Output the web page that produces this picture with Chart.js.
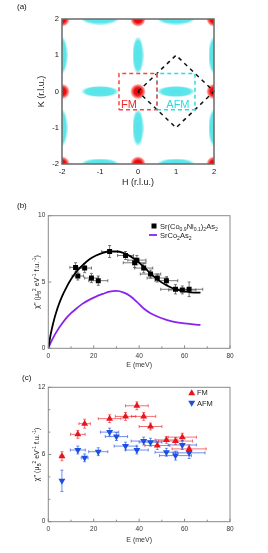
<!DOCTYPE html>
<html><head><meta charset="utf-8">
<script src="https://cdn.jsdelivr.net/npm/chart.js@4.4.1/dist/chart.umd.min.js"></script>
<style>
html,body{margin:0;padding:0;background:#fff;width:268px;height:553px;overflow:hidden;font-family:"Liberation Sans",Arial,sans-serif}
.wrap{position:absolute;left:0;width:268px}
.lab{position:absolute;font-size:8px;line-height:9px;color:#111}
canvas{display:block}
</style></head><body>
<div class="wrap" style="top:0;height:190px"><canvas id="ca" width="268" height="190"></canvas></div>
<div class="wrap" style="top:192px;height:180px"><canvas id="cb" width="268" height="180"></canvas></div>
<div class="wrap" style="top:370px;height:183px"><canvas id="cc" width="268" height="183"></canvas></div>
<div class="lab" style="left:17px;top:2px">(a)</div>
<div class="lab" style="left:17px;top:201px">(b)</div>
<div class="lab" style="left:22px;top:373px">(c)</div>
<script>
// ---------- DATA ----------
// Panel (a): reciprocal-space map (H, K in r.l.u.)
const hklTicks = [-2, -1, 0, 1, 2];
const redH = [-2, 0, 2, -2, 0, 2, -2, 0, 2];
const redK = [2, 2, 2, 0, 0, 0, -2, -2, -2];
const hEllH = [-1, 1, -1, 1, -1, 1];
const hEllK = [0, 0, 2, 2, -2, -2];
const vEllH = [0, 0, -2, -2, 2, 2];
const vEllK = [1, -1, 1, -1, 1, -1];
const fmBoxH = [-0.5, 0.5, 0.5, -0.5, -0.5];
const fmBoxK = [-0.5, -0.5, 0.5, 0.5, -0.5];
const afmBoxH = [0.5, 1.5, 1.5, 0.5, 0.5];
const afmBoxK = [-0.5, -0.5, 0.5, 0.5, -0.5];
const diamH = [0, 1, 2, 1, 0];
const diamK = [0, 1, 0, -1, 0];

// Panel (b)
const eTicks = [0, 20, 40, 60, 80];
const eMinor = [10, 30, 50, 70];
const chiTicksB = [0, 5, 10];
const eB    = [12, 13, 16, 19, 22, 27, 34, 38, 39, 42, 45, 48, 52, 56, 59, 62];
const chiB  = [6.1, 5.45, 6.05, 5.3, 5.1, 7.3, 7.0, 6.45, 6.65, 6.05, 5.6, 5.3, 5.1, 4.45, 4.4, 4.45];
const eErrB = [2.5, 2.5, 3, 3, 4.2, 3.5, 3.5, 5, 4, 4, 4.5, 4.5, 5, 6.5, 6, 6];
const chiErrB = [0.35, 0.3, 0.35, 0.35, 0.35, 0.45, 0.3, 0.35, 0.35, 0.35, 0.3, 0.3, 0.3, 0.35, 0.3, 0.55];
const curveE = [0, 1, 2, 4, 6, 8, 10, 12, 15, 18, 21, 24, 27, 30, 33, 36, 39, 42, 45, 48, 52, 56, 60, 64, 67];
const fitChi = [0, 1.0, 1.8, 3.0, 3.9, 4.6, 5.2, 5.7, 6.25, 6.7, 7.0, 7.2, 7.3, 7.3, 7.2, 6.95, 6.6, 6.15, 5.65, 5.2, 4.75, 4.45, 4.3, 4.2, 4.2];
const srCo2As2Chi = [0, 0.4, 0.75, 1.35, 1.85, 2.3, 2.65, 2.95, 3.35, 3.65, 3.9, 4.1, 4.28, 4.33, 4.22, 3.95, 3.5, 3.0, 2.65, 2.4, 2.15, 1.98, 1.88, 1.8, 1.76];

// Panel (c)
const chiTicksC = [0, 6, 12];
const chiMinorC = [2, 4, 8, 10];
const eFM    = [6, 13, 16, 27, 34, 39, 42, 45, 48, 52, 56, 59, 62];
const chiFM  = [5.85, 7.8, 8.75, 9.2, 9.4, 10.35, 9.4, 8.5, 6.8, 7.3, 7.2, 7.55, 6.5];
const eErrFM = [0.8, 3.2, 2.5, 5, 4.5, 5, 5.3, 5, 5.5, 5, 7.5, 6.2, 7.5];
const chiErrFM = [0.4, 0.35, 0.4, 0.35, 0.35, 0.35, 0.35, 0.3, 0.35, 0.3, 0.3, 0.35, 0.35];
const eAFM    = [6, 13, 16, 22, 27, 30, 34, 39, 42, 45, 52, 56, 59, 62];
const chiAFM  = [3.65, 6.4, 5.7, 6.25, 8.0, 7.6, 6.75, 6.4, 7.2, 7.1, 6.2, 5.9, 6.85, 6.15];
const eErrAFM = [0, 3.3, 1.5, 4.2, 4, 4.9, 5, 5, 5.5, 5, 5, 7, 6.2, 7];
const chiErrAFM = [0.95, 0.35, 0.35, 0.35, 0.35, 0.35, 0.35, 0.35, 0.35, 0.35, 0.35, 0.4, 0.4, 0.5];

// ---------- HELPERS ----------
const FAM = '"Liberation Sans", Arial, sans-serif';
Chart.defaults.font.family = FAM;
Chart.defaults.animation = false;
Chart.defaults.plugins.legend.display = false;
Chart.defaults.plugins.tooltip.enabled = false;
const pts = (xs, ys) => xs.map((x, i) => ({x, y: ys[i]}));

function blobImg() {
  const c = document.createElement('canvas'); c.width = c.height = 16;
  const g = c.getContext('2d');
  const gr = g.createRadialGradient(8, 8, 0, 8, 8, 8);
  gr.addColorStop(0, 'rgba(232,0,0,1)');
  gr.addColorStop(0.5, 'rgba(238,15,15,1)');
  gr.addColorStop(0.8, 'rgba(245,100,100,0.75)');
  gr.addColorStop(1, 'rgba(255,210,210,0)');
  g.fillStyle = gr; g.fillRect(0, 0, 16, 16);
  return c;
}
function ellImg(w, h) {
  const c = document.createElement('canvas'); c.width = w; c.height = h;
  const g = c.getContext('2d');
  g.translate(w / 2, h / 2); g.scale(w / 2, h / 2);
  const gr = g.createRadialGradient(0, 0, 0, 0, 0, 1);
  gr.addColorStop(0, 'rgba(85,228,232,1)');
  gr.addColorStop(0.8, 'rgba(95,230,235,1)');
  gr.addColorStop(1, 'rgba(140,238,240,0.3)');
  g.fillStyle = gr; g.beginPath(); g.arc(0, 0, 1, 0, Math.PI * 2); g.fill();
  return c;
}
function triImg() { return null; }

function drawRich(ctx, segs, x, y, size, rotate, align, color) {
  ctx.save(); ctx.translate(x, y); if (rotate) ctx.rotate(-Math.PI / 2);
  ctx.fillStyle = color || '#222'; ctx.textBaseline = 'alphabetic';
  let w = 0;
  const parts = segs.map(s => { const fs = (s.sub || s.sup) ? size * 0.68 : size;
    ctx.font = fs + 'px ' + FAM; const mw = ctx.measureText(s.t).width; w += mw; return {s, fs, mw}; });
  let cx = align === 'center' ? -w / 2 : 0;
  for (const p of parts) {
    ctx.font = p.fs + 'px ' + FAM;
    const dy = p.s.sub ? size * 0.28 : p.s.sup ? -size * 0.38 : 0;
    ctx.fillText(p.s.t, cx, size * 0.35 + dy);
    cx += p.mw;
  }
  ctx.restore();
}

const framePlugin = {
  id: 'frame',
  afterDatasetsDraw(chart, args, o) {
    const a = chart.chartArea, c = chart.ctx, xs = chart.scales.x, ys = chart.scales.y;
    c.save(); c.strokeStyle = o.color; c.lineWidth = o.width;
    c.strokeRect(a.left, a.top, a.right - a.left, a.bottom - a.top);
    if (o.ticks) {
      const t = o.ticks; c.lineWidth = 1; c.beginPath();
      (t.xMajor || []).forEach(v => { const p = xs.getPixelForValue(v); c.moveTo(p, a.bottom); c.lineTo(p, a.bottom - t.len); });
      (t.xMinor || []).forEach(v => { const p = xs.getPixelForValue(v); c.moveTo(p, a.bottom); c.lineTo(p, a.bottom - t.minLen); });
      (t.yMajor || []).forEach(v => { const p = ys.getPixelForValue(v); c.moveTo(a.left, p); c.lineTo(a.left + t.len, p); });
      (t.yMinor || []).forEach(v => { const p = ys.getPixelForValue(v); c.moveTo(a.left, p); c.lineTo(a.left + t.minLen, p); });
      c.stroke();
    }
    c.restore();
  }
};

const errPlugin = {
  id: 'errbars',
  beforeDatasetsDraw(chart) {
    const ctx = chart.ctx, xs = chart.scales.x, ys = chart.scales.y, a = chart.chartArea;
    ctx.save(); ctx.beginPath(); ctx.rect(a.left, a.top, a.right - a.left, a.bottom - a.top); ctx.clip();
    chart.data.datasets.forEach(ds => {
      if (!ds.errX && !ds.errY) return;
      ctx.strokeStyle = ds.errColor; ctx.lineWidth = ds.errWidth || 0.8; const cap = ds.errCap || 1.5;
      ds.data.forEach((p, i) => {
        const px = xs.getPixelForValue(p.x), py = ys.getPixelForValue(p.y);
        ctx.beginPath();
        if (ds.errX && ds.errX[i]) {
          const x1 = xs.getPixelForValue(p.x - ds.errX[i]), x2 = xs.getPixelForValue(p.x + ds.errX[i]);
          ctx.moveTo(x1, py); ctx.lineTo(x2, py);
          ctx.moveTo(x1, py - cap); ctx.lineTo(x1, py + cap);
          ctx.moveTo(x2, py - cap); ctx.lineTo(x2, py + cap);
        }
        if (ds.errY && ds.errY[i]) {
          const y1 = ys.getPixelForValue(p.y - ds.errY[i]), y2 = ys.getPixelForValue(p.y + ds.errY[i]);
          ctx.moveTo(px, y1); ctx.lineTo(px, y2);
          ctx.moveTo(px - cap, y1); ctx.lineTo(px + cap, y1);
          ctx.moveTo(px - cap, y2); ctx.lineTo(px + cap, y2);
        }
        ctx.stroke();
      });
    });
    ctx.restore();
  }
};

const decoPlugin = {
  id: 'deco',
  afterDraw(chart, args, o) {
    const ctx = chart.ctx, a = chart.chartArea;
    if (o.ytitle) drawRich(ctx, o.ytitle, o.ytitleX, (a.top + a.bottom) / 2, o.ytitleSize, true, 'center', '#222');
    (o.texts || []).forEach(t => {
      const x = chart.scales.x.getPixelForValue(t.h), y = chart.scales.y.getPixelForValue(t.k);
      ctx.save(); ctx.font = t.size + 'px ' + FAM; ctx.fillStyle = t.color; ctx.textAlign = 'center'; ctx.textBaseline = 'middle';
      ctx.fillText(t.text, x, y); ctx.restore();
    });
    (o.legend || []).forEach(L => {
      ctx.save();
      if (L.marker === 'rect') { ctx.fillStyle = L.color; ctx.fillRect(L.x - 2.5, L.y - 2.5, 5, 5); }
      else if (L.marker === 'line') { ctx.strokeStyle = L.color; ctx.lineWidth = 1.8; ctx.beginPath(); ctx.moveTo(L.x - 5, L.y); ctx.lineTo(L.x + 3, L.y); ctx.stroke(); }
      else if (L.marker === 'up' || L.marker === 'down') {
        const s = L.marker === 'up' ? 1 : -1; ctx.fillStyle = L.color; ctx.beginPath();
        ctx.moveTo(L.x, L.y - 3.5 * s); ctx.lineTo(L.x + 3.5, L.y + 2.5 * s); ctx.lineTo(L.x - 3.5, L.y + 2.5 * s); ctx.closePath(); ctx.fill();
      }
      ctx.restore();
      drawRich(ctx, L.text, L.tx, L.y, L.size, false, 'left', '#222');
    });
  }
};

// ---------- PANEL (a) ----------
const blob = blobImg(), hEll = ellImg(37, 11), vEll = ellImg(11, 37);
const dashLine = (xs, ys, color, dash) => ({
  data: pts(xs, ys), showLine: true, pointRadius: 0, borderColor: color, borderWidth: 1.5,
  borderDash: dash, fill: false, order: 0, clip: 2
});
new Chart(document.getElementById('ca'), {
  type: 'scatter',
  data: { datasets: [
    dashLine(fmBoxH, fmBoxK, 'rgb(248,70,70)', [4, 3]),
    dashLine(afmBoxH, afmBoxK, 'rgb(40,222,228)', [4, 3]),
    dashLine(diamH, diamK, '#111', [4, 4]),
    { data: pts(redH, redK), pointStyle: blob, pointRadius: 8, order: 3, clip: 0 },
    { data: pts(hEllH, hEllK), pointStyle: hEll, pointRadius: 18, order: 4, clip: 0 },
    { data: pts(vEllH, vEllK), pointStyle: vEll, pointRadius: 18, order: 4, clip: 0 }
  ]},
  options: {
    responsive: false, devicePixelRatio: 1,
    layout: { padding: { left: 36, top: 10, right: 54, bottom: 2 } },
    scales: {
      x: { type: 'linear', min: -2, max: 2,
        afterBuildTicks: s => { s.ticks = hklTicks.map(v => ({value: v})); },
        afterFit: s => { s.height = 24; },
        grid: { display: false, drawTicks: false }, border: { display: false },
        ticks: { font: { size: 7.5 }, color: '#111', padding: 3, maxRotation: 0 },
        title: { display: true, text: 'H (r.l.u.)', font: { size: 9 }, color: '#222', padding: 0 } },
      y: { type: 'linear', min: -2, max: 2,
        afterBuildTicks: s => { s.ticks = hklTicks.map(v => ({value: v})); },
        afterFit: s => { s.width = 26; },
        grid: { display: false, drawTicks: false }, border: { display: false },
        ticks: { font: { size: 7.5 }, color: '#111', padding: 3 },
        title: { display: true, text: 'K (r.l.u.)', font: { size: 9 }, color: '#222', padding: 0 } }
    },
    plugins: {
      frame: { color: '#6a6a6a', width: 1.5 },
      deco: { texts: [
        { text: 'FM', h: -0.24, k: -0.38, size: 11, color: 'rgb(240,40,40)' },
        { text: 'AFM', h: 1.05, k: -0.38, size: 11, color: 'rgb(40,220,228)' } ] }
    }
  },
  plugins: [framePlugin, decoPlugin]
});

// ---------- PANEL (b) ----------
const yTitle = [{t: "χ'' (μ"}, {t: 'B', sub: true}, {t: '2', sup: true}, {t: ' eV'}, {t: '-1', sup: true}, {t: ' f.u.'}, {t: '-1', sup: true}, {t: ')'}];
const eAxis = (h, pad) => ({ type: 'linear', min: 0, max: 80,
  afterBuildTicks: s => { s.ticks = eTicks.map(v => ({value: v})); },
  afterFit: s => { s.height = h; },
  grid: { display: false, drawTicks: false }, border: { display: false },
  ticks: { font: { size: 6.5 }, color: '#333', padding: pad, maxRotation: 0 },
  title: { display: true, text: 'E (meV)', font: { size: 7 }, color: '#333', padding: 0 } });
const chiAxis = (max, ticks) => ({ type: 'linear', min: 0, max: max,
  afterBuildTicks: s => { s.ticks = ticks.map(v => ({value: v})); },
  afterFit: s => { s.width = 18.3; },
  grid: { display: false, drawTicks: false }, border: { display: false },
  ticks: { font: { size: 6.5 }, color: '#333', padding: 3 } });

new Chart(document.getElementById('cb'), {
  type: 'scatter',
  data: { datasets: [
    { data: pts(eB, chiB), pointStyle: 'rect', pointRadius: 3.5, backgroundColor: '#000', borderColor: '#000', borderWidth: 0,
      errX: eErrB, errY: chiErrB, errColor: 'rgba(70,70,70,0.9)', errWidth: 0.8, errCap: 1.5, order: 0 },
    { data: pts(curveE, fitChi), showLine: true, pointRadius: 0, borderColor: '#000', borderWidth: 1.8, cubicInterpolationMode: 'monotone', order: 1 },
    { data: pts(curveE, srCo2As2Chi), showLine: true, pointRadius: 0, borderColor: '#8a22f0', borderWidth: 1.8, cubicInterpolationMode: 'monotone', order: 2 }
  ]},
  options: {
    responsive: false, devicePixelRatio: 1,
    layout: { padding: { left: 30, top: 23.7, right: 38, bottom: 3 } },
    scales: { x: eAxis(20.7, 4), y: chiAxis(10, chiTicksB) },
    plugins: {
      frame: { color: '#8a8a8a', width: 1, ticks: { xMajor: eTicks, xMinor: eMinor, yMajor: chiTicksB, yMinor: [], len: 3, minLen: 2 } },
      deco: { ytitle: yTitle, ytitleX: 36.5, ytitleSize: 7,
        legend: [
          { marker: 'rect', color: '#000', x: 154, y: 34, tx: 160, size: 7.5,
            text: [{t: 'Sr(Co'}, {t: '0.9', sub: true}, {t: 'Ni'}, {t: '0.1', sub: true}, {t: ')'}, {t: '2', sub: true}, {t: 'As'}, {t: '2', sub: true}] },
          { marker: 'line', color: '#8a22f0', x: 154, y: 43, tx: 160, size: 7.5,
            text: [{t: 'SrCo'}, {t: '2', sub: true}, {t: 'As'}, {t: '2', sub: true}] } ] }
    }
  },
  plugins: [errPlugin, framePlugin, decoPlugin]
});

// ---------- PANEL (c) ----------
new Chart(document.getElementById('cc'), {
  type: 'scatter',
  data: { datasets: [
    { data: pts(eFM, chiFM), pointStyle: 'triangle', pointRadius: 4, backgroundColor: '#e8141e', borderColor: '#e8141e', borderWidth: 0,
      errX: eErrFM, errY: chiErrFM, errColor: 'rgba(235,45,45,0.75)', errWidth: 0.9, errCap: 1.5, order: 0 },
    { data: pts(eAFM, chiAFM), pointStyle: 'triangle', rotation: 180, pointRadius: 4, backgroundColor: '#1d4fe0', borderColor: '#1d4fe0', borderWidth: 0,
      errX: eErrAFM, errY: chiErrAFM, errColor: 'rgba(40,90,230,0.75)', errWidth: 0.9, errCap: 1.5, order: 1 }
  ]},
  options: {
    responsive: false, devicePixelRatio: 1,
    layout: { padding: { left: 30, top: 17.3, right: 38, bottom: 9 } },
    scales: { x: eAxis(22.3, 4), y: chiAxis(12, chiTicksC) },
    plugins: {
      frame: { color: '#8a8a8a', width: 1, ticks: { xMajor: eTicks, xMinor: eMinor, yMajor: chiTicksC, yMinor: chiMinorC, len: 3, minLen: 2 } },
      deco: { ytitle: yTitle, ytitleX: 36.5, ytitleSize: 7,
        legend: [
          { marker: 'up', color: '#e8141e', x: 191.7, y: 22.7, tx: 197, size: 7.5, text: [{t: 'FM'}] },
          { marker: 'down', color: '#1d4fe0', x: 191.7, y: 33.3, tx: 197, size: 7.5, text: [{t: 'AFM'}] } ] }
    }
  },
  plugins: [errPlugin, framePlugin, decoPlugin]
});
</script>
</body></html>
